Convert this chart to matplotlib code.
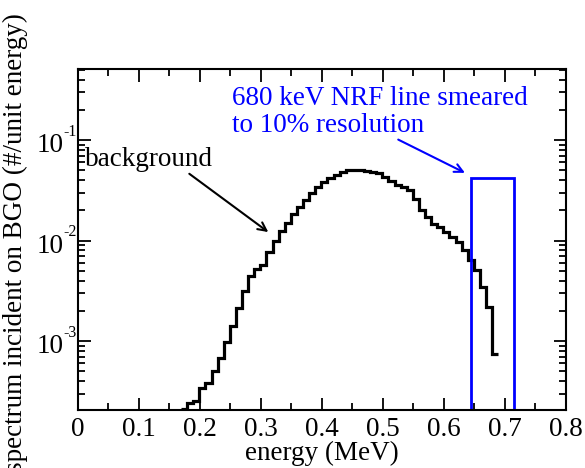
import numpy as np
import matplotlib
matplotlib.use("Agg")
import matplotlib.pyplot as plt
from matplotlib.ticker import MultipleLocator, LogLocator, NullFormatter, FormatStrFormatter

plt.rcParams['font.family'] = ['Liberation Serif', 'DejaVu Serif']

# background spectrum, bins of 0.01 MeV
bin_lo = 0.169
bin_w = 0.01
background = [2.09e-4, 2.43e-4, 2.53e-4, 3.43e-4, 3.79e-4, 5.02e-4, 6.72e-4, 9.82e-4,
              1.41e-3, 2.14e-3, 3.13e-3, 4.41e-3, 5.26e-3, 5.76e-3, 7.69e-3, 1.00e-2,
              1.25e-2, 1.51e-2, 1.85e-2, 2.15e-2, 2.55e-2, 2.96e-2, 3.45e-2, 3.81e-2,
              4.21e-2, 4.54e-2, 4.79e-2, 4.98e-2, 5.06e-2, 5.06e-2, 4.92e-2, 4.83e-2,
              4.68e-2, 4.27e-2, 3.90e-2, 3.61e-2, 3.45e-2, 3.20e-2, 2.61e-2, 2.00e-2,
              1.71e-2, 1.47e-2, 1.36e-2, 1.21e-2, 1.08e-2, 9.66e-3, 7.99e-3, 6.36e-3,
              5.06e-3, 3.45e-3, 2.16e-3, 7.36e-4]
edges = bin_lo + bin_w * np.arange(len(background) + 1)

# NRF line (680 keV, 10% resolution)
nrf_edges = [0.645, 0.715]
nrf_height = [0.042]

decades = [1e-3, 1e-2, 1e-1]
exponents = ['-3', '-2', '-1']

fs = 19.5

fig = plt.figure(figsize=(5.85, 4.68), dpi=100)
ax = fig.add_axes([0.1333, 0.124, 0.8342, 0.7286])

ax.stairs(background, edges, color='black', lw=2.3, baseline=None)
ax.stairs(nrf_height, nrf_edges, color='blue', lw=2.0, baseline=1e-6)

ax.set_yscale('log')
ax.set_xlim(0, 0.8)

ax.xaxis.set_major_locator(MultipleLocator(0.1))
ax.xaxis.set_minor_locator(MultipleLocator(0.05))
ax.xaxis.set_major_formatter(FormatStrFormatter('%g'))
ax.yaxis.set_minor_locator(LogLocator(base=10, subs=np.arange(2, 10)))
ax.yaxis.set_minor_formatter(NullFormatter())
ax.set_yticks(decades)
ax.set_yticklabels(['', '', ''])
ax.set_ylim(2.06e-4, 0.51)

# grace-style 10^-n labels with a short hyphen
ytr = ax.get_yaxis_transform()
for d, e in zip(decades, exponents):
    ax.text(-0.030, d * 0.757, '10', transform=ytr, ha='right', va='baseline', fontsize=fs)
    ax.text(-0.030, d * 1.108, e, transform=ytr, ha='left', va='baseline', fontsize=11.5)

ax.tick_params(which='both', direction='in', top=True, right=True, labelsize=fs, width=1.3)
ax.tick_params(which='major', length=9)
ax.tick_params(which='minor', length=5)
ax.tick_params(axis='x', pad=5)
for s in ax.spines.values():
    s.set_linewidth(1.5)

ax.set_xlabel('energy (MeV)', fontsize=fs, labelpad=-1)
ax.set_ylabel('spectrum incident on BGO (#/unit energy)', fontsize=fs)
ax.yaxis.set_label_coords(-0.1025, 0.49)

ax.text(0.0115, 0.0546, 'background', fontsize=fs, color='black', va='baseline')
ax.annotate('', xy=(0.312, 0.01214), xytext=(0.1825, 0.0462),
            arrowprops=dict(arrowstyle='->,head_length=0.6,head_width=0.3', color='black',
                            lw=1.5, shrinkA=0, shrinkB=0))
ax.text(0.252, 0.1214, '680 keV NRF line smeared\nto 10% resolution', fontsize=fs,
        color='blue', va='baseline', linespacing=1.1)
ax.annotate('', xy=(0.6344, 0.0472), xytext=(0.525, 0.1011),
            arrowprops=dict(arrowstyle='->,head_length=0.6,head_width=0.3', color='blue',
                            lw=1.5, shrinkA=0, shrinkB=0))

fig.savefig('out.png', dpi=100)
